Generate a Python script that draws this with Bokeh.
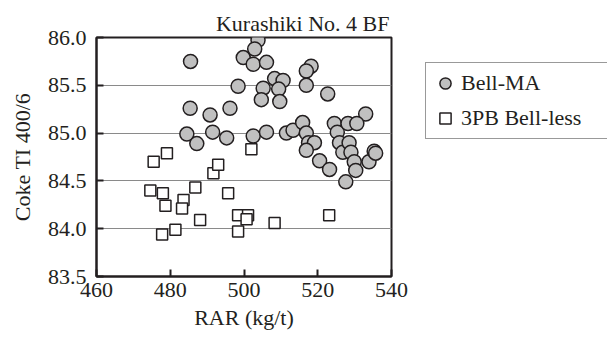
from bokeh.plotting import figure
from bokeh.models import FixedTicker, NumeralTickFormatter, Legend, LegendItem, Range1d
from bokeh.embed import file_html
from bokeh.resources import INLINE

# Bell-MA series
bell_ma_rar = [485.5, 503.8, 502.9, 499.8, 502.5, 506.1, 498.4, 505.2, 508.3, 510.6,
               509.4, 504.7, 509.7, 485.4, 490.8, 496.2, 518.2, 516.9, 516.9, 522.7,
               533.0, 484.5, 487.2, 491.5, 495.3, 502.5, 506.1, 511.5, 513.3, 515.9,
               516.9, 517.5, 519.1, 516.9, 520.5, 523.2, 524.5, 525.3, 525.9, 526.8,
               528.5, 529.0, 529.9, 530.3, 527.6, 528.2, 530.6, 533.9, 535.3, 535.7]
bell_ma_ti = [85.75, 85.97, 85.88, 85.79, 85.72, 85.74, 85.49, 85.47, 85.57, 85.55,
              85.46, 85.35, 85.33, 85.26, 85.19, 85.26, 85.70, 85.65, 85.50, 85.41,
              85.20, 84.99, 84.89, 85.01, 84.95, 84.97, 85.01, 85.00, 85.03, 85.11,
              85.00, 84.90, 84.90, 84.82, 84.71, 84.62, 85.10, 85.01, 84.90, 84.80,
              84.90, 84.80, 84.70, 84.61, 84.49, 85.10, 85.10, 84.70, 84.81, 84.79]

# 3PB Bell-less series
bellless_rar = [475.5, 479.1, 474.6, 478.0, 478.7, 483.6, 483.2, 486.8, 488.1, 491.7,
                493.0, 495.7, 498.4, 501.1, 500.7, 498.4, 481.4, 477.8, 508.3, 502.0,
                523.1]
bellless_ti = [84.70, 84.79, 84.40, 84.37, 84.24, 84.30, 84.21, 84.43, 84.09, 84.58,
               84.67, 84.37, 84.14, 84.14, 84.10, 83.97, 83.99, 83.94, 84.06, 84.83,
               84.14]

x_ticks = [460, 480, 500, 520, 540]
y_ticks = [83.5, 84.0, 84.5, 85.0, 85.5, 86.0]

FONT = "Liberation Serif"
TXT = "#231f20"

p = figure(frame_width=295, frame_height=239, output_backend="svg", toolbar_location=None,
           x_range=Range1d(460, 540), y_range=Range1d(83.5, 86.0),
           min_border_left=96, min_border_right=216, min_border_top=37, min_border_bottom=71,
           title="Kurashiki No. 4 BF")

p.title.align = "right"
p.title.text_font = FONT
p.title.text_font_size = "22px"
p.title.text_font_style = "normal"
p.title.text_color = TXT
p.title.offset = 2
p.title.standoff = 4

p.outline_line_color = TXT
p.outline_line_width = 2
p.background_fill_color = "white"
p.border_fill_color = "white"

p.xgrid.visible = False
p.ygrid.ticker = FixedTicker(ticks=[84.0, 84.5, 85.0, 85.5])
p.ygrid.grid_line_color = "#8a8a8a"
p.ygrid.grid_line_width = 1.2

for ax in (p.xaxis[0], p.yaxis[0]):
    ax.axis_line_color = TXT
    ax.axis_line_width = 2
    ax.major_tick_line_color = TXT
    ax.major_tick_line_width = 2
    ax.major_tick_in = 7
    ax.major_tick_out = 0
    ax.minor_tick_line_color = None
    ax.major_label_text_font = FONT
    ax.major_label_text_font_size = "22px"
    ax.major_label_text_color = TXT
    ax.axis_label_text_font = FONT
    ax.axis_label_text_font_size = "22px"
    ax.axis_label_text_font_style = "normal"
    ax.axis_label_text_color = TXT

p.xaxis.ticker = FixedTicker(ticks=x_ticks)
p.yaxis.ticker = FixedTicker(ticks=y_ticks)
p.yaxis.formatter = NumeralTickFormatter(format="0.0")
p.xaxis.axis_label = "RAR (kg/t)"
p.yaxis.axis_label = "Coke TI 400/6"
p.xaxis.major_label_standoff = 6
p.yaxis.major_label_standoff = 10
p.xaxis.axis_label_standoff = 5
p.yaxis.axis_label_standoff = 10

r_sq = p.scatter(bellless_rar, bellless_ti, marker="square", size=11,
                 fill_color="white", line_color=TXT, line_width=1.5)
r_ci = p.scatter(bell_ma_rar, bell_ma_ti, marker="circle", size=14,
                 fill_color="#c0c0c0", line_color=TXT, line_width=1.5)

legend = Legend(items=[LegendItem(label="Bell-MA", renderers=[r_ci]),
                       LegendItem(label="3PB Bell-less", renderers=[r_sq])],
                location=(34, 137))
legend.label_text_font = FONT
legend.label_text_font_size = "22px"
legend.label_text_color = TXT
legend.border_line_color = "#333333"
legend.border_line_width = 1.5
legend.padding = 5
legend.spacing = 5
legend.glyph_width = 28
legend.glyph_height = 30
legend.label_height = 30
legend.label_width = 149
legend.label_standoff = 2
legend.margin = 0
legend.background_fill_alpha = 1.0
p.add_layout(legend, "right")

open("out.html", "w").write(file_html(p, INLINE))
